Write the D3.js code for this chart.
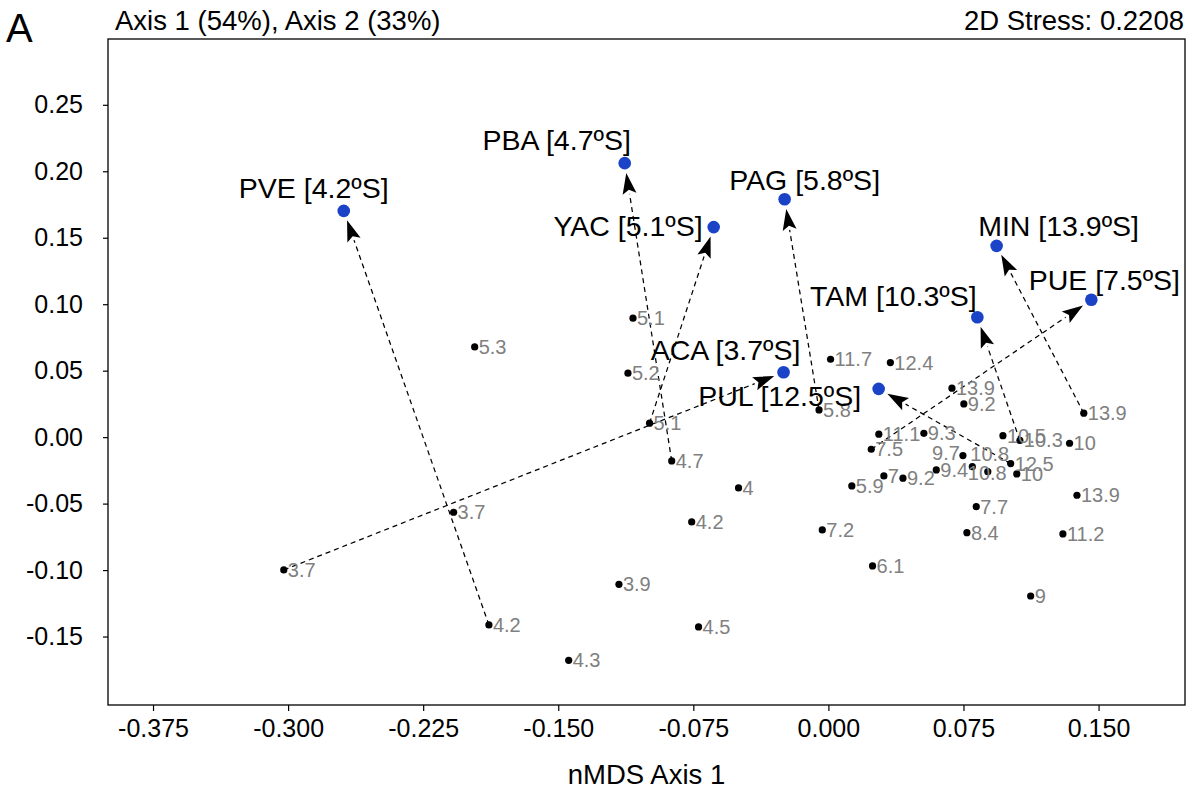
<!DOCTYPE html>
<html><head><meta charset="utf-8">
<script src="https://cdn.jsdelivr.net/npm/d3@7"></script>
<style>
body{margin:0;background:#fff}
svg{display:block}
text{font-family:"Liberation Sans",Arial,Helvetica,sans-serif}
</style>
</head><body>
<svg id="chart" width="1192" height="798"></svg>
<script>
// Site centroids (blue) on nMDS axes 1 and 2
const siteNames = ["PVE","PBA","YAC","PAG","MIN","PUE","TAM","ACA","PUL"];
const siteLat   = ["4.2","4.7","5.1","5.8","13.9","7.5","10.3","3.7","12.5"];
const siteX = [-0.2691,-0.1131,-0.0637,-0.0243, 0.0934, 0.1460, 0.0827,-0.0249, 0.0279];
const siteY = [ 0.1702, 0.2061, 0.1580, 0.1790, 0.1439, 0.1033, 0.0902, 0.0488, 0.0363];

// Sample scores (black) labelled by latitude (ºS)
const sampleLabels = ["5.3","5.1","5.2","5.1","4.7","3.7","3.7","4.2","4.3","3.9",
                      "4.5","4.2","4","11.7","12.4","5.8","13.9","9.2","11.1","9.3",
                      "10.5","10.3","7.5","9.7","10.8","10.8","12.5","10","9.4","9.2",
                      "7","5.9","7.7","8.4","7.2","11.2","13.9","10","6.1","9","13.9"];
const sampleX = [-0.1964,-0.1085,-0.1113,-0.0993,-0.0870,-0.2081,-0.3024,-0.1885,-0.1442,-0.1163,
                 -0.0721,-0.0759,-0.0499, 0.0012, 0.0344,-0.0052, 0.0686, 0.0752, 0.0280, 0.0530,
                  0.0969, 0.1063, 0.0238, 0.0747, 0.0799, 0.0885, 0.1012, 0.1046, 0.0599, 0.0414,
                  0.0308, 0.0130, 0.0821, 0.0769,-0.0034, 0.1302, 0.1380, 0.1339, 0.0245, 0.1123, 0.1418];
const sampleY = [ 0.0679, 0.0895, 0.0481, 0.0105,-0.0179,-0.0565,-0.0999,-0.1413,-0.1679,-0.1107,
                 -0.1428,-0.0638,-0.0382, 0.0586, 0.0561, 0.0205, 0.0368, 0.0250, 0.0022, 0.0029,
                  0.0011,-0.0025,-0.0091,-0.0139,-0.0222,-0.0260,-0.0199,-0.0277,-0.0247,-0.0309,
                 -0.0292,-0.0367,-0.0523,-0.0719,-0.0698,-0.0728,-0.0437,-0.0046,-0.0969,-0.1195, 0.0180];

// Index of the sample each site arrow starts from
const arrowFrom = [7, 4, 3, 15, 40, 22, 21, 6, 26];

// Axis ticks
const xTicks = [-0.375,-0.300,-0.225,-0.150,-0.075,0.000,0.075,0.150];
const yTicks = [-0.15,-0.10,-0.05,0.00,0.05,0.10,0.15,0.20,0.25];

const headerLeft  = "Axis 1 (54%), Axis 2 (33%)";
const headerRight = "2D Stress: 0.2208";
const panelTag = "A";
const xTitle = "nMDS Axis 1";

// ---- layout ----
const plot = {left:108, right:1185, top:39, bottom:705};
const x = d3.scaleLinear().domain([-0.4, 0.198]).range([plot.left, plot.right]);
const y = d3.scaleLinear().domain([-0.2015, 0.2995]).range([plot.bottom, plot.top]);

// label placement for site names: anchor, dx, dy (baseline) relative to the dot
const siteLabelPos = {
  PVE:["middle",-30,-13], PBA:["middle",-68,-13], YAC:["end",-11,9],
  PAG:["middle",20,-9],  MIN:["middle",62,-10],  PUE:["middle",13,-10],
  TAM:["middle",-84,-11], ACA:["middle",-58,-12], PUL:["middle",-99,17]
};
// sample labels sit right of the dot, except a few moved aside in the crowded cluster
const sampleLabelDefault = ["start", 4, 7];
const sampleLabelNudge = { 23:["end",-3,4], 24:["start",-2,-6], 25:["start",-20,8.5] };

const svg = d3.select("#chart");
const blue = "#1a43c8";
const hyphen = f => d => f(d).replace("\u2212", "-");

// frame
svg.append("rect")
  .attr("x", plot.left).attr("y", plot.top)
  .attr("width", plot.right - plot.left).attr("height", plot.bottom - plot.top)
  .attr("fill", "none").attr("stroke", "#000").attr("stroke-width", 1.3);

// x axis
const xAxis = svg.append("g").attr("transform", `translate(0,${plot.bottom})`)
  .call(d3.axisBottom(x).tickValues(xTicks).tickFormat(hyphen(d3.format(".3f")))
    .tickSize(6).tickSizeOuter(0).tickPadding(8));
xAxis.select(".domain").remove();
xAxis.selectAll("text").attr("font-size", 25).attr("fill", "#000")
  .attr("font-family", "'Liberation Sans',Arial,sans-serif");
xAxis.selectAll("line").attr("stroke", "#000").attr("stroke-width", 1.2);

// y axis
const yAxis = svg.append("g").attr("transform", `translate(${plot.left},0)`)
  .call(d3.axisLeft(y).tickValues(yTicks).tickFormat(hyphen(d3.format(".2f")))
    .tickSize(5).tickSizeOuter(0).tickPadding(20));
yAxis.select(".domain").remove();
yAxis.selectAll("text").attr("font-size", 25).attr("fill", "#000")
  .attr("font-family", "'Liberation Sans',Arial,sans-serif");
yAxis.selectAll("line").attr("stroke", "#000").attr("stroke-width", 1.2);

// axis title and header texts
svg.append("text").attr("x", (plot.left + plot.right) / 2).attr("y", 784)
  .attr("text-anchor", "middle").attr("font-size", 27.5).text(xTitle);
svg.append("text").attr("x", 115).attr("y", 30).attr("font-size", 27.5).text(headerLeft);
svg.append("text").attr("x", 1184).attr("y", 30).attr("text-anchor", "end").attr("font-size", 27.5).text(headerRight);
svg.append("text").attr("x", 6).attr("y", 42).attr("font-size", 40).text(panelTag);

// arrows from sample to site
const arrows = siteNames.map((n, i) => ({
  x0: x(sampleX[arrowFrom[i]]), y0: y(sampleY[arrowFrom[i]]),
  x1: x(siteX[i]), y1: y(siteY[i])
}));
const tipGap = 10, headLen = 21, headHalf = 7;
const ag = svg.append("g");
arrows.forEach(a => {
  const dx = a.x1 - a.x0, dy = a.y1 - a.y0, L = Math.hypot(dx, dy);
  const ux = dx / L, uy = dy / L;
  const tx = a.x1 - ux * tipGap, ty = a.y1 - uy * tipGap;
  const bx = tx - ux * headLen, by = ty - uy * headLen;
  ag.append("line").attr("x1", a.x0).attr("y1", a.y0).attr("x2", bx).attr("y2", by)
    .attr("stroke", "#000").attr("stroke-width", 1.25).attr("stroke-dasharray", "5,4");
  ag.append("path")
    .attr("d", `M${tx},${ty}L${bx - uy * headHalf},${by + ux * headHalf}L${bx + ux * 4},${by + uy * 4}L${bx + uy * headHalf},${by - ux * headHalf}Z`)
    .attr("fill", "#000");
});

// samples
const samples = sampleLabels.map((l, i) => ({l, x: sampleX[i], y: sampleY[i],
  pos: sampleLabelNudge[i] || sampleLabelDefault}));
const sg = svg.append("g");
sg.selectAll("circle").data(samples).join("circle")
  .attr("cx", d => x(d.x)).attr("cy", d => y(d.y)).attr("r", 3.6).attr("fill", "#000");
sg.selectAll("text").data(samples).join("text")
  .attr("x", d => x(d.x) + d.pos[1]).attr("y", d => y(d.y) + d.pos[2])
  .attr("text-anchor", d => d.pos[0])
  .attr("font-size", 20).attr("fill", "#808080").text(d => d.l);

// sites
const sites = siteNames.map((n, i) => ({n, lat: siteLat[i], x: siteX[i], y: siteY[i]}));
const stg = svg.append("g");
stg.selectAll("circle").data(sites).join("circle")
  .attr("cx", d => x(d.x)).attr("cy", d => y(d.y)).attr("r", 6.3).attr("fill", blue);
stg.selectAll("text").data(sites).join("text")
  .attr("x", d => x(d.x) + siteLabelPos[d.n][1])
  .attr("y", d => y(d.y) + siteLabelPos[d.n][2])
  .attr("text-anchor", d => siteLabelPos[d.n][0])
  .attr("font-size", 28.5).attr("fill", "#000")
  .text(d => `${d.n} [${d.lat}ºS]`);
</script>
</body></html>
